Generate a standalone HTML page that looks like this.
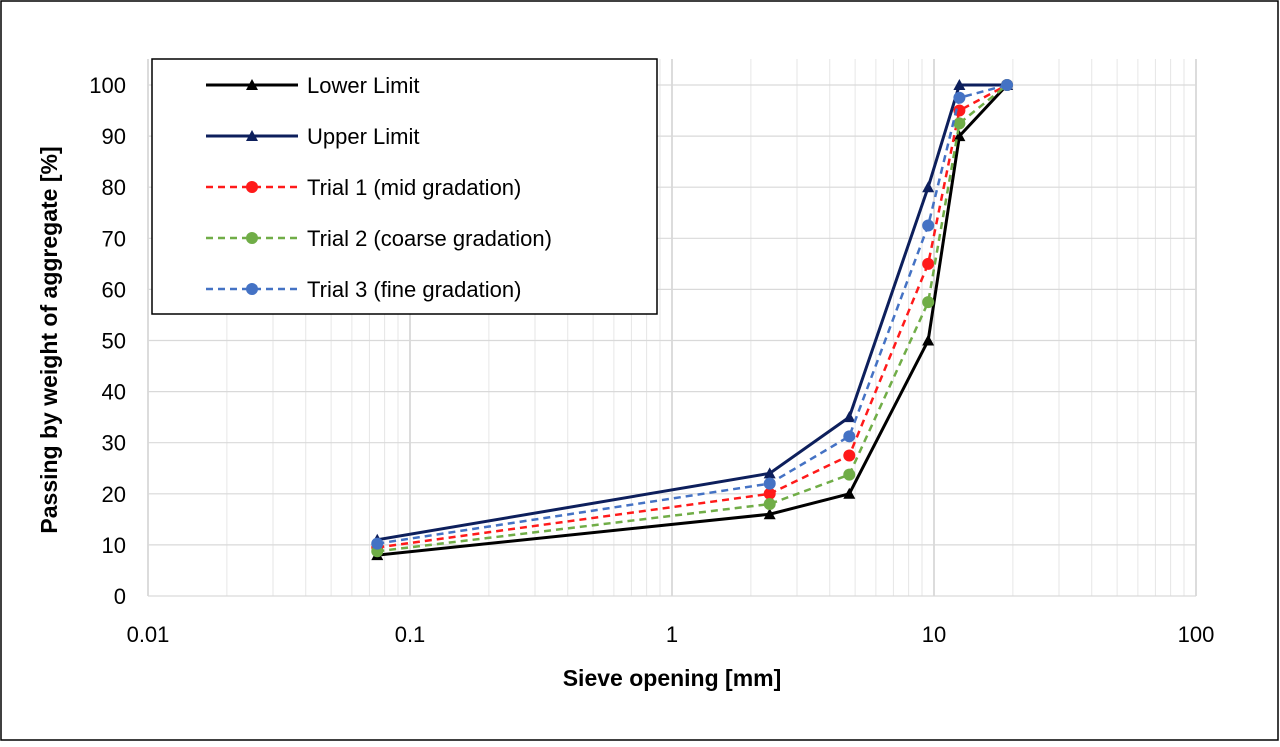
<!DOCTYPE html>
<html><head><meta charset="utf-8"><style>
body{margin:0;background:#fff;}
svg text{font-family:"Liberation Sans",sans-serif;}
</style></head><body>
<svg id="chart" width="1280" height="742">
<rect x="1" y="1" width="1277" height="739" fill="#fff" stroke="#000" stroke-width="1.5"/>
<g id="grid"></g><g id="axes"></g><g id="series"></g>
<text x="672" y="686" text-anchor="middle" font-size="23" font-weight="bold">Sieve opening [mm]</text>
<text transform="translate(57,340) rotate(-90)" text-anchor="middle" font-size="23" font-weight="bold">Passing by weight of aggregate [%]</text>
<g id="legend"></g>
</svg>
<script>
const sieves=[0.075,2.36,4.75,9.5,12.5,19];
const lowerLimit=[8,16,20,50,90,100];
const upperLimit=[11,24,35,80,100,100];
const trial1=[9.5,20,27.5,65,95,100];
const trial2=[8.75,18,23.75,57.5,92.5,100];
const trial3=[10.25,22,31.25,72.5,97.5,100];
const xTicks=[0.01,0.1,1,10,100];
const xTickLabels=["0.01","0.1","1","10","100"];
const yTicks=[0,10,20,30,40,50,60,70,80,90,100];
const seriesNames=["Lower Limit","Upper Limit","Trial 1 (mid gradation)","Trial 2 (coarse gradation)","Trial 3 (fine gradation)"];

const NS="http://www.w3.org/2000/svg";
const X0=148,X1=1196,Y0=596,Y1=85;
function sx(v){return X0+(Math.log10(v)+2)/4*(X1-X0);}
function sy(v){return Y0-v/100*(Y0-Y1);}
function mk(tag,attrs,parent){const e=document.createElementNS(NS,tag);for(const k in attrs)e.setAttribute(k,attrs[k]);parent.appendChild(e);return e;}
const grid=document.getElementById('grid'),axes=document.getElementById('axes'),ser=document.getElementById('series'),leg=document.getElementById('legend');
for(let d=-2;d<2;d++){for(let m=2;m<=9;m++){const x=sx(m*Math.pow(10,d));const l=mk('line',{x1:x,x2:x,y1:Y1-26,y2:Y0,stroke:'#e6e6e6','stroke-width':1},grid);

}}
xTicks.forEach((t,i)=>{const x=sx(t);const l=mk('line',{x1:x,x2:x,y1:Y1-26,y2:Y0,stroke:'#d0d0d0','stroke-width':1.5},grid);


const tx=mk('text',{x:x,y:Y0+46,'text-anchor':'middle','font-size':22},axes);tx.textContent=xTickLabels[i];

});
yTicks.forEach(t=>{const y=sy(t);const l=mk('line',{x1:X0,x2:X1,y1:y,y2:y,stroke:'#d9d9d9','stroke-width':1.2},grid);


const tx=mk('text',{x:X0-22,y:y+8,'text-anchor':'end','font-size':22},axes);tx.textContent=t;

});
const styles=[{c:'#000',dash:null,m:'tri',w:3},{c:'#0d1f5c',dash:null,m:'tri',w:3},{c:'#ff1a1a',dash:'7,5',m:'dot',w:2.5},{c:'#70ad47',dash:'7,5',m:'dot',w:2.5},{c:'#4472c4',dash:'7,5',m:'dot',w:2.5}];
const data=[lowerLimit,upperLimit,trial1,trial2,trial3];
function marker(s,x,y,g){if(s.m==='tri')return mk('polygon',{points:`${x},${y-6} ${x-6},${y+5} ${x+6},${y+5}`,fill:s.c},g);return mk('circle',{cx:x,cy:y,r:6,fill:s.c},g);}
data.forEach((arr,i)=>{const s=styles[i];const g=mk('g',{},ser);


const p=mk('polyline',{points:arr.map((v,j)=>sx(sieves[j])+','+sy(v)).join(' '),fill:'none',stroke:s.c,'stroke-width':s.w},g);if(s.dash)p.setAttribute('stroke-dasharray',s.dash);


arr.forEach((v,j)=>{const m=marker(s,sx(sieves[j]),sy(v),g);

});});
const lb=mk('rect',{x:152,y:59,width:505,height:255,fill:'#fff',stroke:'#000','stroke-width':1.5},leg);


seriesNames.forEach((n,i)=>{const s=styles[i];const y=85+i*51;const g=mk('g',{},leg);


const l=mk('line',{x1:206,x2:298,y1:y,y2:y,stroke:s.c,'stroke-width':s.w},g);if(s.dash)l.setAttribute('stroke-dasharray',s.dash);
marker(s,252,y,g);
const t=mk('text',{x:307,y:y+8,'font-size':22},g);t.textContent=n;});
</script>
</body></html>
